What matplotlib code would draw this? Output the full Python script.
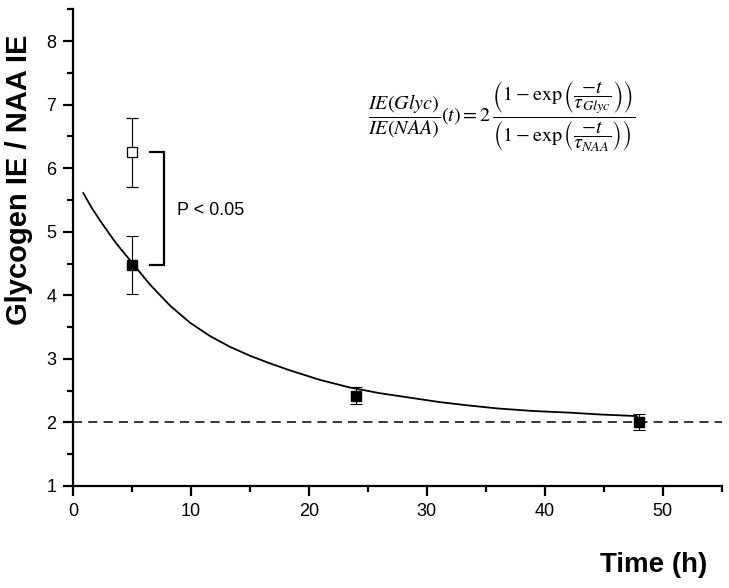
import matplotlib
matplotlib.use("Agg")
import matplotlib.pyplot as plt
import numpy as np

plt.rcParams['font.family'] = ['Liberation Sans', 'DejaVu Sans']
plt.rcParams['mathtext.fontset'] = 'stix'

# measured points
t_pts = [5, 24, 48]
ratio_filled = [4.48, 2.42, 2.01]
err_filled = [0.46, 0.135, 0.13]

t_open = [5]
ratio_open = [6.25]
err_open = [0.54]

# fitted curve
t_fit = [0.87, 1.58, 2.29, 3.0, 3.70, 4.41, 5.11, 6.53, 8.22, 9.92, 11.61,
         13.31, 15.0, 16.69, 18.39, 20.93, 23.47, 26.02, 28.56, 31.10, 33.4,
         36.0, 39.0, 42.0, 44.7, 47.8]
ratio_fit = [5.61, 5.38, 5.18, 4.99, 4.81, 4.65, 4.49, 4.17, 3.84, 3.57, 3.36,
             3.19, 3.05, 2.93, 2.82, 2.67, 2.55, 2.46, 2.39, 2.32, 2.27,
             2.22, 2.18, 2.155, 2.125, 2.10]

baseline = 2.0

fig = plt.figure(figsize=(7.29, 5.88), dpi=100)
ax = fig.add_axes([0.1001, 0.1735, 0.8899, 0.8105])

ax.axhline(baseline, color="black", lw=1.1, ls=(0, (6, 4)))
ax.plot(t_fit, ratio_fit, color="black", lw=1.3, solid_joinstyle="round")

ax.errorbar(t_open, ratio_open, yerr=err_open, fmt="s", mfc="white",
            mec="black", mew=0.9, ms=6.5, color="black", ecolor="black",
            elinewidth=0.8, capsize=4, capthick=0.8)
ax.errorbar(t_pts, ratio_filled, yerr=err_filled, fmt="s", mfc="black",
            mec="black", ms=6.5, color="black", ecolor="black",
            elinewidth=0.8, capsize=4, capthick=0.8, zorder=5)

# significance bracket
ax.plot([6.5, 7.7, 7.7, 6.5], [ratio_open[0], ratio_open[0], ratio_filled[0], ratio_filled[0]],
        color="black", lw=1.6, solid_joinstyle="miter")
ax.text(8.8, 5.33, "P < 0.05", fontsize=13, va="center", ha="left")

formula = (r"$\dfrac{IE(Glyc)}{IE(NAA)}(t) = 2\,"
           r"\dfrac{\left(1-\exp\left(\dfrac{-t}{\tau_{Glyc}}\right)\right)}"
           r"{\left(1-\exp\left(\dfrac{-t}{\tau_{NAA}}\right)\right)}$")
ax.text(36.3, 6.81, formula, fontsize=14.5, ha="center", va="center")

ax.set_xlim(0, 55)
ax.set_ylim(1, 8.5)
ax.set_xticks([0, 10, 20, 30, 40, 50])
ax.set_xticks(np.arange(5, 56, 10), minor=True)
ax.set_yticks([1, 2, 3, 4, 5, 6, 7, 8])
ax.set_yticks(np.arange(1.5, 8.6, 1), minor=True)

for s in ["top", "right"]:
    ax.spines[s].set_visible(False)
for s in ["left", "bottom"]:
    ax.spines[s].set_linewidth(1.6)

ax.tick_params(which="major", direction="out", length=7, width=1.6, labelsize=13, pad=5)
ax.tick_params(which="minor", direction="out", length=4, width=1.6)

fig.text(0.026, 0.695, "Glycogen IE / NAA IE", rotation=90, fontsize=21,
         fontweight="bold", ha="center", va="center")
fig.text(0.97, 0.039, "Time (h)", fontsize=20, fontweight="bold",
         ha="right", va="center")

fig.savefig("out.png", dpi=100)
